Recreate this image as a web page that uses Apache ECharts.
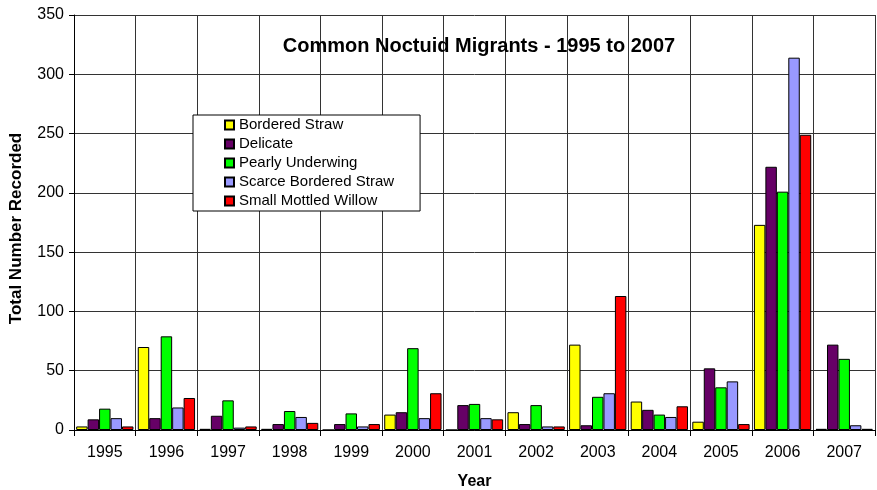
<!DOCTYPE html>
<html>
<head>
<meta charset="utf-8">
<script src="https://cdn.jsdelivr.net/npm/echarts@6/dist/echarts.min.js"></script>
<style>
  html, body { margin: 0; padding: 0; background: #fff; }
  #main { width: 877px; height: 490px; }
</style>
</head>
<body>
<div id="main"></div>
<script>
var years = ['1995', '1996', '1997', '1998', '1999', '2000', '2001', '2002', '2003', '2004', '2005', '2006', '2007'];
var borderedStraw = [3, 70, 1, 1, 0, 13, 0, 15, 72, 24, 7, 173, 1];
var delicate = [9, 10, 12, 5, 5, 15, 21, 5, 4, 17, 52, 222, 72];
var pearlyUnderwing = [18, 79, 25, 16, 14, 69, 22, 21, 28, 13, 36, 201, 60];
var scarceBorderedStraw = [10, 19, 2, 11, 3, 10, 10, 3, 31, 11, 41, 314, 4];
var smallMottledWillow = [3, 27, 3, 6, 5, 31, 9, 3, 113, 20, 5, 249, 1];

var chartDom = document.getElementById('main');
var myChart = echarts.init(chartDom);
var option;

function bar(name, data, color) {
  return {
    name: name,
    type: 'bar',
    data: data,
    barGap: '0%',
    barCategoryGap: '7%',
    itemStyle: { color: color, borderColor: '#000', borderWidth: 1 }
  };
}

option = {
  animation: false,
  textStyle: { fontFamily: 'Liberation Sans, Arial, sans-serif' },
  title: {
    text: 'Common Noctuid Migrants - 1995 to 2007',
    left: 479,
    textAlign: 'center',
    top: 36,
    padding: 0,
    textStyle: { fontSize: 20, fontWeight: 'bold', color: '#000' }
  },
  legend: {
    orient: 'vertical',
    left: 193,
    top: 115,
    padding: [2, 26, 2, 31],
    itemGap: 3,
    itemWidth: 9,
    itemHeight: 9,
    icon: 'rect',
    backgroundColor: '#fff',
    borderColor: '#000',
    borderWidth: 1,
    borderRadius: 0,
    textStyle: { fontSize: 15, lineHeight: 16, color: '#000' },
    data: ['Bordered Straw', 'Delicate', 'Pearly Underwing', 'Scarce Bordered Straw', 'Small Mottled Willow']
  },
  grid: { left: 74, right: 2, top: 15, bottom: 60, containLabel: false, outerBoundsMode: 'none' },
  xAxis: {
    type: 'category',
    data: years,
    name: 'Year',
    nameLocation: 'middle',
    nameGap: 44,
    nameTextStyle: { fontSize: 16, fontWeight: 'bold', color: '#000' },
    axisLine: { lineStyle: { color: '#000', width: 1 } },
    axisTick: { show: true, length: 6, lineStyle: { color: '#000' } },
    axisLabel: { fontSize: 16, color: '#000', margin: 15 },
    splitLine: { show: true, lineStyle: { color: '#333', width: 1 } }
  },
  yAxis: {
    type: 'value',
    min: 0,
    max: 350,
    interval: 50,
    name: 'Total Number Recorded',
    nameLocation: 'middle',
    nameGap: 49,
    nameTextStyle: { fontSize: 17, fontWeight: 'bold', color: '#000', padding: [0, 12, 0, 0] },
    axisLine: { show: true, lineStyle: { color: '#000', width: 1 } },
    axisTick: { show: true, length: 5, lineStyle: { color: '#000' } },
    axisLabel: { fontSize: 16, color: '#000', margin: 10 },
    splitLine: { show: true, lineStyle: { color: '#333', width: 1 } }
  },
  series: [
    bar('Bordered Straw', borderedStraw, '#ffff00'),
    bar('Delicate', delicate, '#660066'),
    bar('Pearly Underwing', pearlyUnderwing, '#00ff00'),
    bar('Scarce Bordered Straw', scarceBorderedStraw, '#9999ff'),
    bar('Small Mottled Willow', smallMottledWillow, '#ff0000')
  ]
};

option && myChart.setOption(option);
</script>
</body>
</html>
